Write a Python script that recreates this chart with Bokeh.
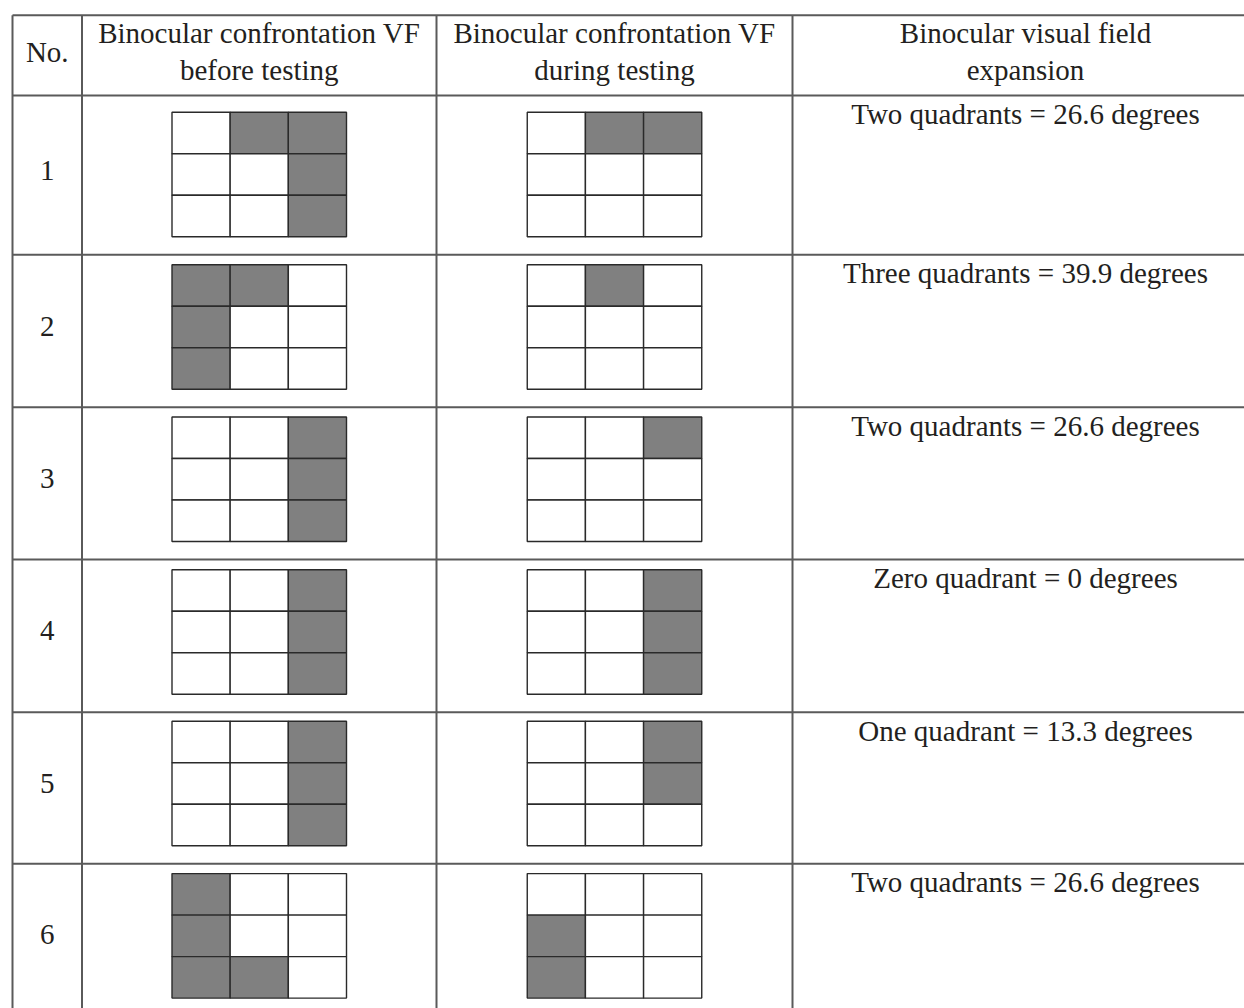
from bokeh.plotting import figure
from bokeh.models import Range1d, ColumnDataSource
from bokeh.embed import file_html
from bokeh.resources import INLINE
from bokeh.core.properties import value

# ---------------- data ----------------
HEADERS = [
    ["No."],
    ["Binocular confrontation VF", "before testing"],
    ["Binocular confrontation VF", "during testing"],
    ["Binocular visual field", "expansion"],
]
ROW_NUMBERS = ["1", "2", "3", "4", "5", "6"]

# 3x3 confrontation grids, top row first; 1 = shaded (defect) quadrant
BEFORE = [
    [[0, 1, 1], [0, 0, 1], [0, 0, 1]],
    [[1, 1, 0], [1, 0, 0], [1, 0, 0]],
    [[0, 0, 1], [0, 0, 1], [0, 0, 1]],
    [[0, 0, 1], [0, 0, 1], [0, 0, 1]],
    [[0, 0, 1], [0, 0, 1], [0, 0, 1]],
    [[1, 0, 0], [1, 0, 0], [1, 1, 0]],
]
DURING = [
    [[0, 1, 1], [0, 0, 0], [0, 0, 0]],
    [[0, 1, 0], [0, 0, 0], [0, 0, 0]],
    [[0, 0, 1], [0, 0, 0], [0, 0, 0]],
    [[0, 0, 1], [0, 0, 1], [0, 0, 1]],
    [[0, 0, 1], [0, 0, 1], [0, 0, 0]],
    [[0, 0, 0], [1, 0, 0], [1, 0, 0]],
]
EXPANSION = [
    "Two quadrants = 26.6 degrees",
    "Three quadrants = 39.9 degrees",
    "Two quadrants = 26.6 degrees",
    "Zero quadrant = 0 degrees",
    "One quadrant = 13.3 degrees",
    "Two quadrants = 26.6 degrees",
]

# ---------------- layout (page pixels) ----------------
COL_EDGES = [12, 81.5, 436, 792, 1258]
ROW_EDGES = [14.7, 95, 254.3, 406.7, 559, 711.7, 863.3, 1015.6]
GRID_W, GRID_H = 174.5, 124.5
GRID_BOTTOM_GAP = 18
FONT = value("Liberation Serif")
FONT_SIZE = "29px"
TEXT_COLOR = "#231f20"
LINE_COLOR = "#5a5a5a"
GRID_LINE = "#2a2a2a"
SHADE = "#808080"

W, H = 1244, 1008
p = figure(width=W, height=H, output_backend="svg", toolbar_location=None,
           x_range=Range1d(0, W), y_range=Range1d(H, 0),
           min_border=0, min_border_left=0, min_border_right=0,
           min_border_top=0, min_border_bottom=0)
p.axis.visible = False
p.grid.visible = False
p.outline_line_color = None
p.background_fill_color = "white"
p.border_fill_color = "white"

# ---------------- table lines ----------------
x0s, y0s, x1s, y1s = [], [], [], []
for yy in ROW_EDGES[:-1]:
    x0s.append(COL_EDGES[0]); x1s.append(COL_EDGES[-1]); y0s.append(yy); y1s.append(yy)
for xx in COL_EDGES[:-1]:
    x0s.append(xx); x1s.append(xx); y0s.append(ROW_EDGES[0]); y1s.append(ROW_EDGES[-1])
p.segment(x0=x0s, y0=y0s, x1=x1s, y1=y1s, line_color=LINE_COLOR, line_width=2)

# ---------------- grids ----------------
lefts, rights, tops, bottoms, fills = [], [], [], [], []
for col_idx, grids in ((1, BEFORE), (2, DURING)):
    cx = (COL_EDGES[col_idx] + COL_EDGES[col_idx + 1]) / 2
    for r, grid in enumerate(grids):
        gb = ROW_EDGES[r + 2] - GRID_BOTTOM_GAP
        gt = gb - GRID_H
        gl = cx - GRID_W / 2
        cw, ch = GRID_W / 3, GRID_H / 3
        for i, rowcells in enumerate(grid):
            for j, v in enumerate(rowcells):
                lefts.append(gl + j * cw); rights.append(gl + (j + 1) * cw)
                tops.append(gt + i * ch); bottoms.append(gt + (i + 1) * ch)
                fills.append(SHADE if v else "white")
src = ColumnDataSource(dict(left=lefts, right=rights, top=tops, bottom=bottoms, fill=fills))
p.quad(left="left", right="right", top="top", bottom="bottom", fill_color="fill",
       line_color=GRID_LINE, line_width=1.4, source=src)

# ---------------- header text ----------------
hx, hy, ht = [], [], []
for c, lines in enumerate(HEADERS):
    cx = (COL_EDGES[c] + COL_EDGES[c + 1]) / 2
    if len(lines) == 1:
        hx.append(cx); hy.append(51); ht.append(lines[0])
    else:
        for k, t in enumerate(lines):
            hx.append(cx); hy.append(32 + 37.5 * k); ht.append(t)
p.text(x=hx, y=hy, text=ht, text_font=FONT, text_font_size=FONT_SIZE,
       text_align="center", text_baseline="middle", text_color=TEXT_COLOR)

# ---------------- row numbers ----------------
nx = [(COL_EDGES[0] + COL_EDGES[1]) / 2] * len(ROW_NUMBERS)
ny = [(ROW_EDGES[r + 1] + ROW_EDGES[r + 2]) / 2 - 5 for r in range(len(ROW_NUMBERS))]
p.text(x=nx, y=ny, text=ROW_NUMBERS, text_font=FONT, text_font_size=FONT_SIZE,
       text_align="center", text_baseline="middle", text_color=TEXT_COLOR)

# ---------------- expansion text ----------------
ex = [(COL_EDGES[3] + COL_EDGES[4]) / 2] * len(EXPANSION)
ey = [ROW_EDGES[r + 1] + 18.5 for r in range(len(EXPANSION))]
p.text(x=ex, y=ey, text=EXPANSION, text_font=FONT, text_font_size=FONT_SIZE,
       text_align="center", text_baseline="middle", text_color=TEXT_COLOR)

open("out.html", "w").write(file_html(p, INLINE))
